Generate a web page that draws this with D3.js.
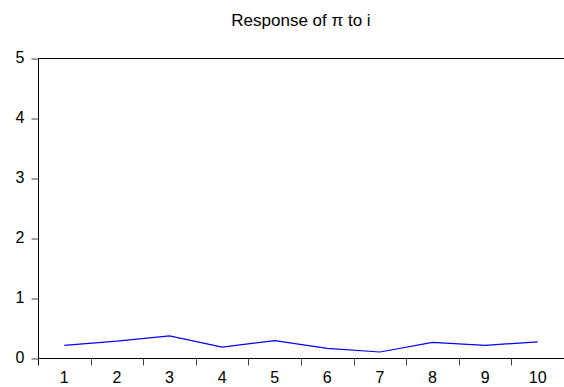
<!DOCTYPE html>
<html>
<head>
<meta charset="utf-8">
<script src="https://cdn.jsdelivr.net/npm/d3@7"></script>
<style>
  body { margin: 0; background: #fff; }
  svg text { font-family: "Liberation Sans", Arial, sans-serif; fill: #000; }
</style>
</head>
<body>
<svg id="chart" width="564" height="387"></svg>
<script>
// periods and impulse response values
const periods = [1, 2, 3, 4, 5, 6, 7, 8, 9, 10];
const response = [0.21, 0.28, 0.37, 0.18, 0.29, 0.16, 0.10, 0.26, 0.21, 0.27];
const yTicks = [0, 1, 2, 3, 4, 5];
const title = 'Response of \u03c0 to i';

const svg = d3.select('#chart');
const plotLeft = 38, plotRight = 564, plotTop = 58, plotBottom = 358;

const x = d3.scaleBand().domain(periods).range([plotLeft, plotRight]);
const y = d3.scaleLinear().domain([0, 5]).range([plotBottom, plotTop]);

// top frame line
svg.append('line')
  .attr('x1', plotLeft).attr('x2', plotRight)
  .attr('y1', plotTop + 0.5).attr('y2', plotTop + 0.5)
  .attr('stroke', '#000').attr('stroke-width', 1);

// y axis
const yAxis = svg.append('g')
  .attr('transform', `translate(${plotLeft + 0.5},0.5)`)
  .call(d3.axisLeft(y).tickValues(yTicks).tickSize(7).tickPadding(7).tickFormat(d3.format('d')));
yAxis.select('.domain').attr('d', `M0,${plotTop}V${plotBottom + 7}`);
yAxis.selectAll('.tick line').attr('stroke', '#444');
yAxis.selectAll('text').style('font-size', '16px').attr('dy', '0.25em');

// x axis with ticks between categories
const xAxis = svg.append('g').attr('transform', `translate(0,${plotBottom + 0.5})`);
xAxis.append('line')
  .attr('x1', plotLeft).attr('x2', plotRight)
  .attr('stroke', '#000');
xAxis.selectAll('.xtick')
  .data(periods.slice(1))
  .join('line')
  .attr('x1', d => Math.round(x(d)) + 0.5)
  .attr('x2', d => Math.round(x(d)) + 0.5)
  .attr('y1', 0).attr('y2', 7)
  .attr('stroke', '#444');
xAxis.selectAll('.xlab')
  .data(periods)
  .join('text')
  .attr('x', d => x(d) + x.bandwidth() / 2)
  .attr('y', 24)
  .attr('text-anchor', 'middle')
  .style('font-size', '16px')
  .text(d => d);

// response line
const line = d3.line()
  .x((d, i) => x(periods[i]) + x.bandwidth() / 2)
  .y(d => y(d));
svg.append('path')
  .datum(response)
  .attr('d', line)
  .attr('fill', 'none')
  .attr('stroke', '#0000ff')
  .attr('stroke-width', 1.2);

// title
svg.append('text')
  .attr('x', 301)
  .attr('y', 26)
  .attr('text-anchor', 'middle')
  .style('font-size', '17px')
  .text(title);
</script>
</body>
</html>
